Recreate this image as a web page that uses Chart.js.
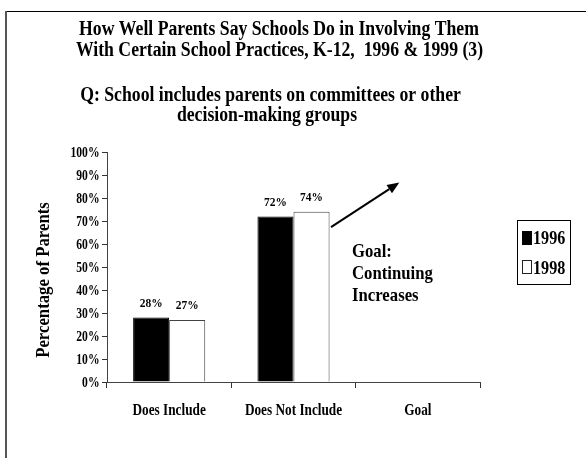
<!DOCTYPE html>
<html><head><meta charset="utf-8">
<script src="https://cdn.jsdelivr.net/npm/chart.js@4"></script>
<style>html,body{margin:0;padding:0;background:#fff}#c{display:block}</style>
</head><body>
<canvas id="c" width="586" height="458"></canvas>
<script>
const categories = ['Does Include', 'Does Not Include', 'Goal'];
const seriesNames = ['1996', '1998'];
const values1996 = [28, 72, null];
const values1998 = [27, 74, null];
const yTickValues = [0, 10, 20, 30, 40, 50, 60, 70, 80, 90, 100];
const titleLines = ['How Well Parents Say Schools Do in Involving Them', 'With Certain School Practices, K-12,  1996 & 1999 (3)'];
const subtitleLines = ['Q: School includes parents on committees or other', 'decision-making groups'];
const yAxisTitle = 'Percentage of Parents';
const goalNote = ['Goal:', 'Continuing', 'Increases'];
const arrowValues = [67.3, 86.7];

const FF = "'Liberation Serif', 'Times New Roman', serif";

function txt(ctx, s, x, y, size, sx, align) {
  ctx.save();
  ctx.font = 'bold ' + size + 'px ' + FF;
  ctx.textAlign = align || 'left';
  ctx.textBaseline = 'alphabetic';
  ctx.fillStyle = '#000';
  ctx.translate(x, y);
  ctx.scale(sx, 1);
  ctx.fillText(s, 0, 0);
  ctx.restore();
}

const decor = {
  id: 'decor',
  afterDraw(chart) {
    const ctx = chart.ctx;
    const xs = chart.scales.x, ys = chart.scales.y;
    // frame
    ctx.save();
    ctx.strokeStyle = '#000'; ctx.lineWidth = 1;
    ctx.beginPath(); ctx.moveTo(6, 11.5); ctx.lineTo(586, 11.5); ctx.stroke();
    ctx.strokeStyle = '#555'; ctx.lineWidth = 2;
    ctx.beginPath(); ctx.moveTo(6, 11); ctx.lineTo(6, 458); ctx.stroke();
    ctx.restore();
    // titles
    txt(ctx, titleLines[0], 279, 35, 20, 0.885, 'center');
    txt(ctx, titleLines[1], 279.5, 56, 20, 0.885, 'center');
    txt(ctx, subtitleLines[0], 270.5, 101, 20, 0.885, 'center');
    txt(ctx, subtitleLines[1], 267, 121, 20, 0.885, 'center');
    // y axis title
    ctx.save();
    ctx.translate(49, 280);
    ctx.rotate(-Math.PI / 2);
    txt(ctx, yAxisTitle, 0, 0, 18, 0.93, 'center');
    ctx.restore();
    // y tick labels (positions from the y scale)
    ys.ticks.forEach(t => {
      txt(ctx, t.value + '%', 99.5, ys.getPixelForValue(t.value) + 4.7, 14, 0.83, 'right');
    });
    // x category labels (positions from the x scale)
    categories.forEach((c, i) => {
      txt(ctx, c, xs.getPixelForValue(i), 415, 17, 0.78, 'center');
    });
    // data labels
    chart.data.datasets.forEach((ds, di) => {
      const meta = chart.getDatasetMeta(di);
      meta.data.forEach((el, i) => {
        const v = ds.data[i];
        if (v === null || v === undefined) return;
        txt(ctx, v + '%', el.x, el.y - 10.5, 13, 0.88, 'center');
      });
    });
    // legend
    ctx.save();
    ctx.strokeStyle = '#000'; ctx.lineWidth = 1;
    ctx.strokeRect(517.5, 220.5, 53, 64);
    ctx.fillStyle = '#000';
    ctx.fillRect(522, 231, 10, 14);
    ctx.fillStyle = '#fff';
    ctx.fillRect(522, 260, 10, 14);
    ctx.strokeStyle = '#222';
    ctx.strokeRect(522.5, 260.5, 9, 13);
    ctx.restore();
    txt(ctx, seriesNames[0], 533, 244, 19, 0.85, 'left');
    txt(ctx, seriesNames[1], 533, 274, 19, 0.85, 'left');
    // arrow
    const cx = xs.getPixelForValue(1);
    const x1 = cx + 37.5, y1 = ys.getPixelForValue(arrowValues[0]);
    const x2 = cx + 105.8, y2 = ys.getPixelForValue(arrowValues[1]);
    const ang = Math.atan2(y2 - y1, x2 - x1);
    const hl = 12, hw = 5;
    const bx = x2 - hl * Math.cos(ang), by = y2 - hl * Math.sin(ang);
    ctx.save();
    ctx.strokeStyle = '#000'; ctx.lineWidth = 2;
    ctx.beginPath(); ctx.moveTo(x1, y1); ctx.lineTo(bx, by); ctx.stroke();
    ctx.fillStyle = '#000';
    ctx.beginPath();
    ctx.moveTo(x2, y2);
    ctx.lineTo(bx + hw * Math.sin(ang), by - hw * Math.cos(ang));
    ctx.lineTo(bx - hw * Math.sin(ang), by + hw * Math.cos(ang));
    ctx.closePath(); ctx.fill();
    ctx.restore();
    // goal note
    goalNote.forEach((s, i) => txt(ctx, s, 352, 257 + i * 22, 19, 0.88, 'left'));
  }
};

new Chart(document.getElementById('c'), {
  type: 'bar',
  data: {
    labels: categories,
    datasets: [
      { label: seriesNames[0], data: values1996, backgroundColor: '#000', borderColor: '#000', borderWidth: 1, barPercentage: 1, categoryPercentage: 0.58 },
      { label: seriesNames[1], data: values1998, backgroundColor: '#fff', borderColor: '#444', borderWidth: 1, barPercentage: 1, categoryPercentage: 0.58 }
    ]
  },
  options: {
    responsive: false,
    animation: false,
    layout: { padding: { top: 152, right: 106, bottom: 0, left: 0 } },
    plugins: { legend: { display: false }, title: { display: false }, tooltip: { enabled: false } },
    scales: {
      x: {
        grid: { display: true, drawOnChartArea: false, drawTicks: true, tickLength: 6, color: '#333', offset: true },
        border: { display: true, color: '#444', width: 1 },
        ticks: { display: false },
        afterFit(s) { s.height = 76; }
      },
      y: {
        min: 0, max: 100,
        afterBuildTicks(s) { s.ticks = yTickValues.map(v => ({ value: v })); },
        grid: { display: true, drawOnChartArea: false, drawTicks: true, tickLength: 5, color: '#333' },
        border: { display: true, color: '#444', width: 1 },
        ticks: { display: false },
        afterFit(s) { s.width = 107; }
      }
    }
  },
  plugins: [decor]
});
</script>
</body></html>
